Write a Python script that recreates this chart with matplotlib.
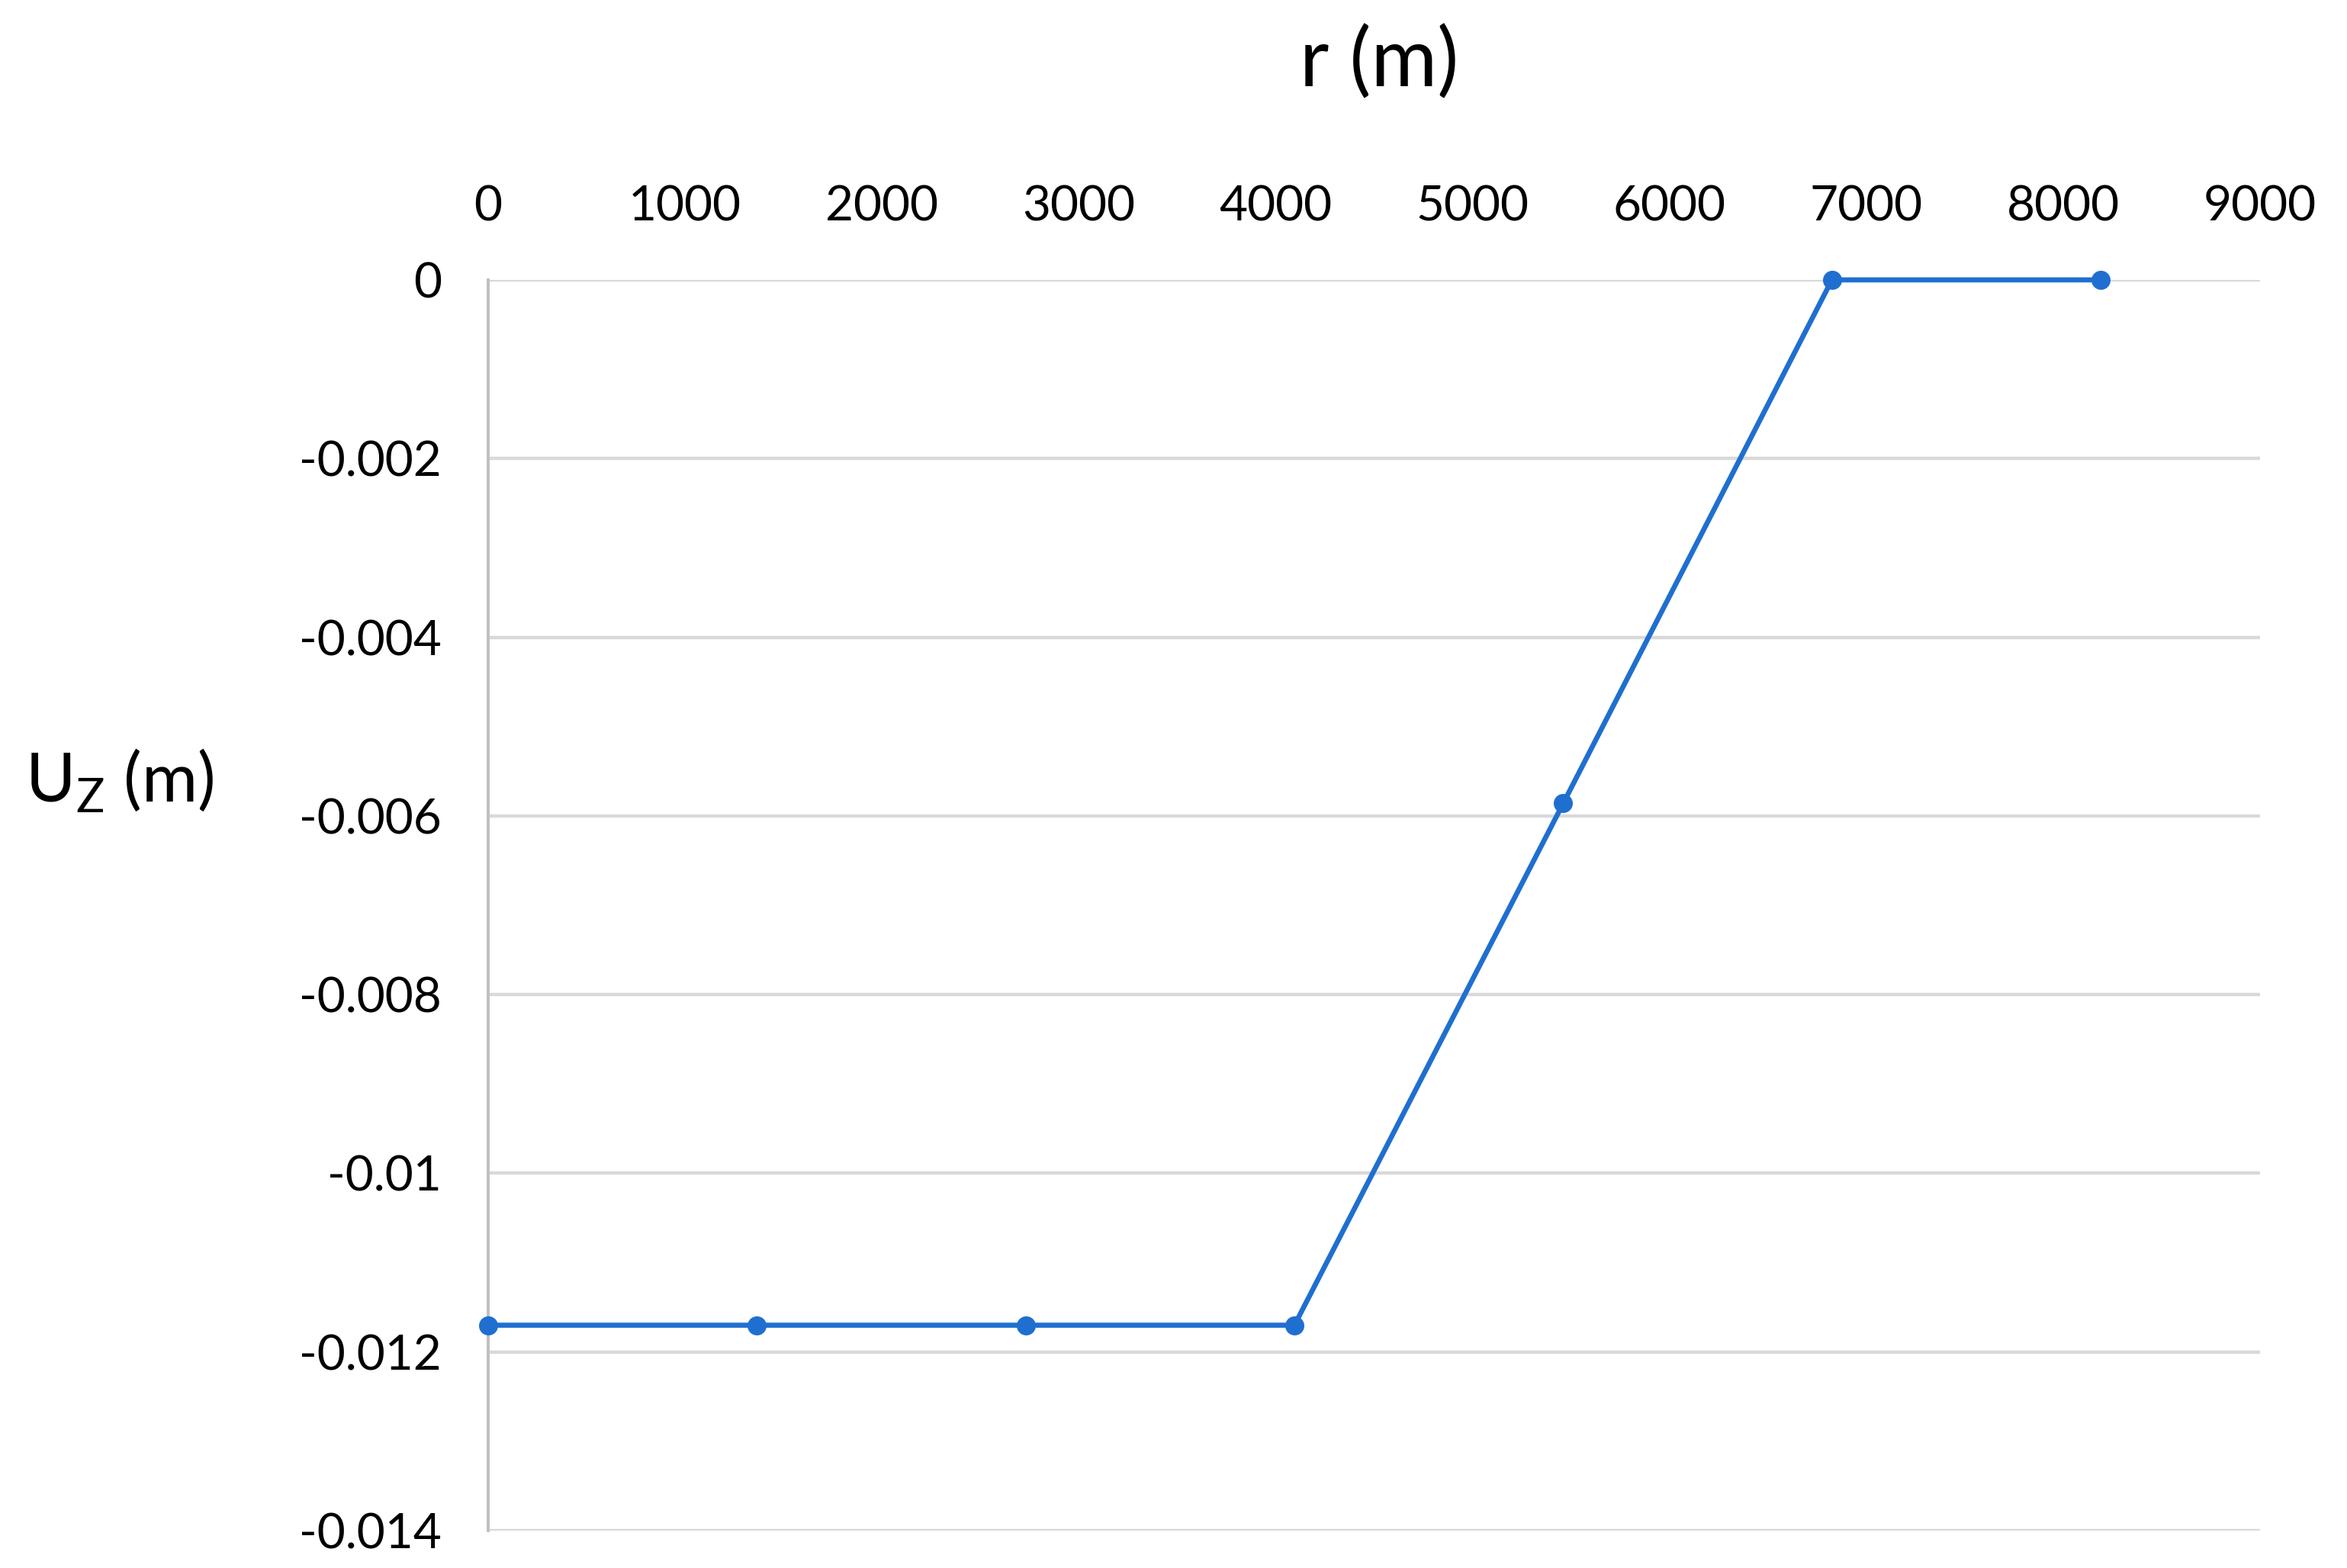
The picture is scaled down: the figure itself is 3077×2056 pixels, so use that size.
import matplotlib
matplotlib.use("Agg")
import matplotlib.pyplot as plt
from matplotlib.ticker import FuncFormatter

r_m = [0, 1365, 2730, 4095, 5460, 6825, 8190]
uz_m = [-0.0117, -0.0117, -0.0117, -0.0117, -0.00586, 0.0, 0.0]

x_ticks = [0, 1000, 2000, 3000, 4000, 5000, 6000, 7000, 8000, 9000]
y_ticks = [0, -0.002, -0.004, -0.006, -0.008, -0.01, -0.012, -0.014]

plt.rcParams['font.family'] = ['Lato', 'DejaVu Sans']
plt.rcParams['axes.unicode_minus'] = False

fig = plt.figure(figsize=(15.385, 10.28), dpi=200)
ax = fig.add_axes([0.208, 0.0238, 0.755, 0.7977])

ax.plot(r_m, uz_m, color='#1f6fd0', lw=2.4, marker='o', markersize=8,
        zorder=3, clip_on=False)

ax.set_xlim(0, 9000)
ax.set_ylim(-0.014, 0)
ax.set_xticks(x_ticks)
ax.set_yticks(y_ticks)
ax.yaxis.set_major_formatter(FuncFormatter(lambda v, p: '%g' % round(v, 4) if v != 0 else '0'))

ax.xaxis.tick_top()
ax.tick_params(axis='both', length=0, labelsize=23)
ax.tick_params(axis='x', pad=24)
ax.tick_params(axis='y', pad=22)

ax.grid(axis='y', color='#d9d9d9', lw=1.6)
ax.set_axisbelow(True)
for s in ['top', 'right', 'bottom']:
    ax.spines[s].set_visible(False)
ax.spines['left'].set_color('#bfbfbf')
ax.spines['left'].set_linewidth(1.4)

fig.text(0.5875, 0.96, 'r (m)', fontsize=38, ha='center', va='center')
fig.text(0.051, 0.502, r'U$_\mathregular{Z}$ (m)', fontsize=32,
         ha='center', va='center')

fig.savefig('out.png', dpi=200, facecolor='white')
